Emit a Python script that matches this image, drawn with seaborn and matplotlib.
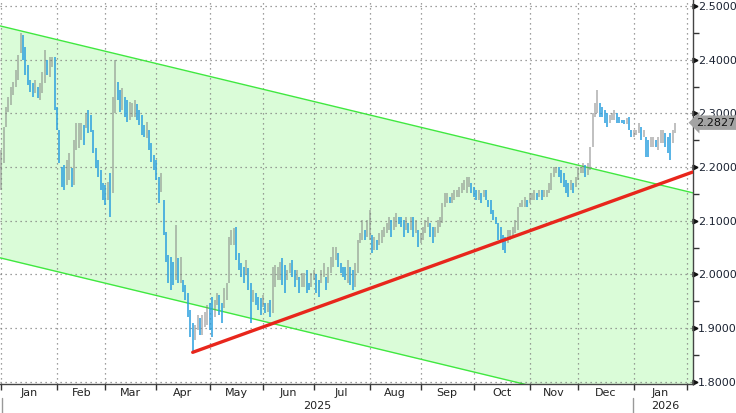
import numpy as np
import pandas as pd
import seaborn as sns
import matplotlib
matplotlib.use("Agg")
import matplotlib.pyplot as plt

# Daily bar ranges (low / high), business days from 1 Jan 2025
jan25_lo = [2.157, 2.208, 2.275, 2.303, 2.316, 2.334, 2.349, 2.362, 2.412, 2.399, 2.372, 2.353,
            2.340, 2.331, 2.338, 2.329, 2.325, 2.338, 2.357, 2.372, 2.368, 2.386, 2.306]
jan25_hi = [2.232, 2.275, 2.312, 2.331, 2.350, 2.358, 2.381, 2.409, 2.450, 2.446, 2.424, 2.390,
            2.362, 2.357, 2.362, 2.350, 2.357, 2.377, 2.418, 2.399, 2.405, 2.405, 2.405]
feb25_lo = [2.269, 2.208, 2.163, 2.157, 2.167, 2.176, 2.163, 2.167, 2.232, 2.236, 2.250, 2.241,
            2.273, 2.263, 2.265, 2.226, 2.198, 2.182, 2.157, 2.139]
feb25_hi = [2.312, 2.269, 2.200, 2.204, 2.213, 2.226, 2.198, 2.250, 2.282, 2.282, 2.282, 2.278,
            2.301, 2.306, 2.297, 2.269, 2.236, 2.213, 2.195, 2.170]
mar25_lo = [2.130, 2.139, 2.107, 2.152, 2.300, 2.325, 2.303, 2.306, 2.293, 2.284, 2.288, 2.293,
            2.293, 2.288, 2.278, 2.260, 2.256, 2.254, 2.232, 2.210, 2.195]
mar25_hi = [2.167, 2.172, 2.189, 2.330, 2.400, 2.358, 2.344, 2.347, 2.330, 2.325, 2.321, 2.319,
            2.325, 2.318, 2.306, 2.297, 2.278, 2.284, 2.269, 2.245, 2.223]
apr25_lo = [2.176, 2.133, 2.154, 2.074, 2.023, 1.984, 1.971, 1.980, 1.990, 1.984, 1.984, 1.967,
            1.953, 1.921, 1.884, 1.854, 1.878, 1.897, 1.887, 1.887, 1.902, 1.906]
apr25_hi = [2.213, 2.182, 2.189, 2.139, 2.079, 2.036, 2.033, 2.023, 2.092, 2.031, 2.033, 1.990,
            1.980, 1.966, 1.934, 1.910, 1.906, 1.925, 1.919, 1.925, 1.930, 1.943]
may25_lo = [1.897, 1.884, 1.921, 1.943, 1.925, 1.910, 1.938, 1.953, 1.984, 2.055, 2.055, 2.027,
            2.008, 1.995, 1.984, 1.999, 1.971, 1.910, 1.949, 1.943, 1.934, 1.925]
may25_hi = [1.947, 1.958, 1.953, 1.966, 1.962, 1.947, 1.975, 1.984, 2.070, 2.083, 2.087, 2.088,
            2.040, 2.021, 2.014, 2.027, 2.012, 1.984, 1.971, 1.966, 1.958, 1.956]
jun25_lo = [1.940, 1.928, 1.930, 1.921, 1.928, 1.977, 1.990, 1.990, 1.980, 1.966, 1.990, 2.003,
            1.995, 1.977, 1.990, 1.966, 1.977, 1.977, 1.966, 1.971, 1.977]
jun25_hi = [1.962, 1.947, 1.947, 1.953, 2.014, 2.018, 2.014, 2.023, 2.031, 2.018, 2.008, 2.021,
            2.027, 2.008, 2.008, 1.995, 2.003, 2.003, 2.008, 1.984, 2.003]
jul25_lo = [1.990, 1.966, 1.958, 1.984, 1.995, 1.971, 1.984, 2.003, 2.014, 2.027, 2.014, 2.003,
            1.995, 1.990, 1.984, 1.980, 1.971, 1.977, 2.003, 2.059, 2.064, 2.064, 2.070]
jul25_hi = [2.008, 2.000, 1.990, 2.008, 2.021, 1.995, 2.014, 2.033, 2.051, 2.051, 2.040, 2.021,
            2.014, 2.014, 2.027, 2.014, 2.008, 2.021, 2.064, 2.077, 2.101, 2.083, 2.101]
aug25_lo = [2.064, 2.040, 2.046, 2.046, 2.055, 2.059, 2.070, 2.077, 2.083, 2.070, 2.083, 2.088,
            2.094, 2.088, 2.070, 2.083, 2.077, 2.083, 2.070, 2.077, 2.051]
aug25_hi = [2.120, 2.074, 2.070, 2.064, 2.077, 2.083, 2.088, 2.096, 2.107, 2.101, 2.107, 2.114,
            2.107, 2.107, 2.101, 2.107, 2.096, 2.107, 2.107, 2.101, 2.083]
sep25_lo = [2.059, 2.064, 2.077, 2.088, 2.070, 2.059, 2.070, 2.077, 2.088, 2.096, 2.126, 2.133,
            2.133, 2.133, 2.139, 2.144, 2.144, 2.152, 2.157, 2.152, 2.163, 2.152]
sep25_hi = [2.077, 2.088, 2.101, 2.107, 2.096, 2.088, 2.088, 2.101, 2.107, 2.133, 2.152, 2.152,
            2.144, 2.152, 2.157, 2.157, 2.163, 2.170, 2.176, 2.182, 2.182, 2.170]
oct25_lo = [2.144, 2.139, 2.139, 2.133, 2.144, 2.139, 2.126, 2.113, 2.101, 2.094, 2.064, 2.064,
            2.046, 2.040, 2.059, 2.064, 2.070, 2.077, 2.083, 2.126, 2.126, 2.126, 2.126]
oct25_hi = [2.163, 2.157, 2.157, 2.152, 2.157, 2.157, 2.139, 2.139, 2.120, 2.107, 2.096, 2.088,
            2.074, 2.070, 2.083, 2.083, 2.088, 2.101, 2.126, 2.133, 2.139, 2.144, 2.139]
nov25_lo = [2.133, 2.139, 2.139, 2.139, 2.144, 2.139, 2.144, 2.144, 2.152, 2.157, 2.182, 2.189,
            2.182, 2.170, 2.163, 2.152, 2.144, 2.157, 2.152, 2.163]
nov25_hi = [2.152, 2.152, 2.157, 2.152, 2.157, 2.157, 2.157, 2.157, 2.170, 2.189, 2.200, 2.200,
            2.200, 2.195, 2.189, 2.176, 2.170, 2.176, 2.170, 2.182]
dec25_lo = [2.176, 2.189, 2.189, 2.182, 2.185, 2.195, 2.237, 2.293, 2.301, 2.293, 2.293, 2.282,
            2.275, 2.282, 2.288, 2.288, 2.282, 2.282, 2.282, 2.280, 2.280, 2.269, 2.256]
dec25_hi = [2.200, 2.200, 2.208, 2.204, 2.208, 2.237, 2.301, 2.319, 2.344, 2.319, 2.312, 2.306,
            2.301, 2.297, 2.301, 2.306, 2.301, 2.293, 2.288, 2.288, 2.291, 2.293, 2.269]
jan26_lo = [2.256, 2.260, 2.263, 2.250, 2.256, 2.219, 2.219, 2.237, 2.237, 2.237, 2.232, 2.245,
            2.245, 2.237, 2.226, 2.213, 2.245, 2.263]
jan26_hi = [2.269, 2.270, 2.282, 2.275, 2.269, 2.256, 2.250, 2.256, 2.256, 2.250, 2.256, 2.269,
            2.269, 2.263, 2.256, 2.263, 2.269, 2.283]

last_price = 2.2827
month_labels = ["Jan", "Feb", "Mar", "Apr", "May", "Jun", "Jul", "Aug", "Sep", "Oct", "Nov", "Dec", "Jan"]

# Channel (upper edge at chart left / right, parallel lower edge) and trend line
channel_upper = [2.463, 2.152]
channel_width = 0.432
trend_start = "2025-04-22"
trend_values = [1.855, 2.191]

lows = (jan25_lo + feb25_lo + mar25_lo + apr25_lo + may25_lo + jun25_lo + jul25_lo
        + aug25_lo + sep25_lo + oct25_lo + nov25_lo + dec25_lo + jan26_lo)
highs = (jan25_hi + feb25_hi + mar25_hi + apr25_hi + may25_hi + jun25_hi + jul25_hi
         + aug25_hi + sep25_hi + oct25_hi + nov25_hi + dec25_hi + jan26_hi)

cal = pd.bdate_range("2025-01-01", "2026-02-10")
df = pd.DataFrame({"date": cal[:len(lows)], "low": lows, "high": highs})
df["x"] = np.arange(len(df))
mid = (df["low"] + df["high"]) / 2
df["up"] = mid.diff().fillna(0) >= 0

month_starts = [int(np.searchsorted(cal, pd.Timestamp(f"{y}-{m:02d}-01")))
                for y, m in [(2025, m) for m in range(1, 13)] + [(2026, 1), (2026, 2)]]

sns.set_theme(style="white")
plt.rcParams["font.family"] = ["DejaVu Sans"]

fig = plt.figure(figsize=(7.36, 4.13), dpi=100)
ax = fig.add_axes([0, 29 / 413, 693 / 736, 384 / 413])

x_left, x_right = -0.5, 285.4
ax.set_xlim(x_left, x_right)
ax.set_ylim(1.796, 2.5112)

# channel
upper = np.array(channel_upper)
lower = upper - channel_width
ax.fill_between([x_left, x_right], lower, upper, color="#dafcd8", zorder=0.2, lw=0)
sns.lineplot(x=[x_left, x_right], y=upper, color="#40e840", lw=1.0, ax=ax, zorder=1.5)
sns.lineplot(x=[x_left, x_right], y=lower, color="#40e840", lw=1.0, ax=ax, zorder=1.5)

# bars
up = df[df["up"]]
dn = df[~df["up"]]
ax.vlines(up["x"], up["low"], up["high"], colors="#7a7a7a", alpha=0.6, lw=1.1, zorder=2)
ax.vlines(dn["x"], dn["low"], dn["high"], colors="#2a9fdf", lw=1.1, zorder=2)

# trend line
t0 = int(np.searchsorted(cal, pd.Timestamp(trend_start)))
sns.lineplot(x=[t0, x_right], y=trend_values, color="#e8261c", lw=2.4, ax=ax, zorder=3)

# grid & axes
ax.set_xticks(month_starts)
ax.set_xticklabels([])
centers = [(a + b) / 2 for a, b in zip(month_starts[:-1], month_starts[1:])]
ax.set_xticks(centers, minor=True)
ax.set_xticklabels(month_labels, minor=True, fontsize=8, color="#222222")
ax.tick_params(axis="x", which="major", direction="out", length=4, width=1, color="#333333", bottom=True)
ax.tick_params(axis="x", which="minor", length=0, pad=3, bottom=True)

yt = np.round(np.arange(1.8, 2.501, 0.1), 1)
ax.yaxis.tick_right()
ax.set_yticks(yt)
ax.set_yticklabels([f"{v:.4f}" for v in yt], fontsize=8, color="#1c2433")
ax.set_yticks(np.round(np.arange(1.85, 2.5, 0.1), 2), minor=True)
ax.tick_params(axis="y", which="major", length=0, pad=3.5, right=True)
ax.tick_params(axis="y", which="minor", direction="out", length=4, width=1, color="#333333", right=True)
ax.plot([1.003] * len(yt), yt, ">", ms=3.5, color="#111111",
        transform=ax.get_yaxis_transform(), clip_on=False)

ax.grid(True, which="major", ls=(0, (1, 3)), color="#808080", lw=0.9)
ax.set_axisbelow(True)
for side in ["top", "left"]:
    ax.spines[side].set_visible(False)
for side in ["bottom", "right"]:
    ax.spines[side].set_color("#444444")
    ax.spines[side].set_linewidth(1.0)

# last price tag
ax.annotate(f"{last_price:.4f}", xy=(1.0, last_price), xycoords=ax.get_yaxis_transform(),
            xytext=(2.5, 0), textcoords="offset points", ha="left", va="center",
            fontsize=8, color="#111111", annotation_clip=False, zorder=5,
            bbox=dict(boxstyle="larrow,pad=0.2", fc="#a3a3a3", ec="none"))

# year labels and separators
fig.text(317 / 736, 1 - 406 / 413, "2025", ha="center", va="center", fontsize=8, color="#222222")
fig.text(665 / 736, 1 - 406 / 413, "2026", ha="center", va="center", fontsize=8, color="#222222")
for xp in [2, 633]:
    fig.add_artist(plt.Line2D([xp / 736, xp / 736], [0, 15 / 413], color="#999999", lw=1))

fig.savefig("out.png", dpi=100)
